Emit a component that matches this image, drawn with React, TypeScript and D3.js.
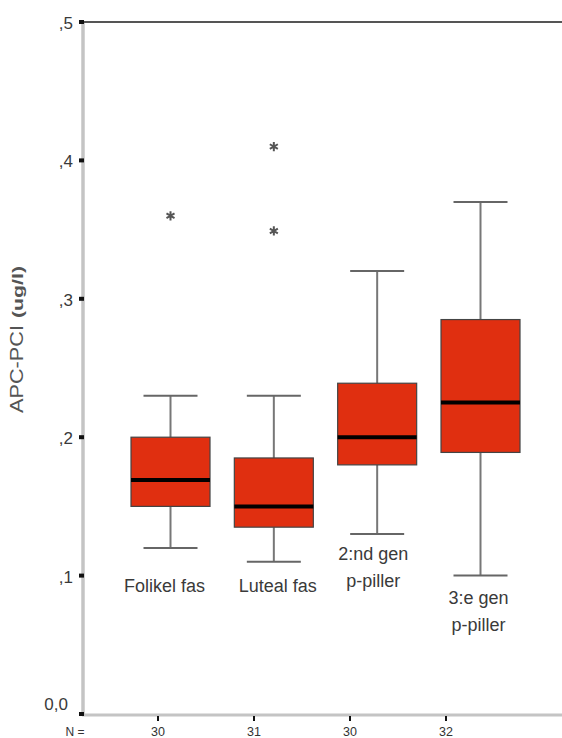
import React from "react";
import * as d3 from "d3";

// Groups and their box-plot summaries (APC-PCI, ug/l)
const groupLines: string[][] = [
  ["Folikel fas"],
  ["Luteal fas"],
  ["2:nd gen", "p-piller"],
  ["3:e gen", "p-piller"],
];
const groupKeys = ["folikel", "luteal", "gen2", "gen3"];
const whiskerLow = [0.12, 0.11, 0.13, 0.1];
const quartile1 = [0.15, 0.135, 0.18, 0.189];
const medians = [0.169, 0.15, 0.2, 0.225];
const quartile3 = [0.2, 0.185, 0.239, 0.285];
const whiskerHigh = [0.23, 0.23, 0.32, 0.37];
const outliers: number[][] = [[0.36], [0.41, 0.349], [], []];
const counts = [30, 31, 30, 32];

const yTicks = [0, 0.1, 0.2, 0.3, 0.4, 0.5];
const yTickLabels = ["0,0", ",1", ",2", ",3", ",4", ",5"];

const W = 562;
const H = 738;

export default function App() {
  const left = 82;
  const top = 22;
  const bottom = 714;

  const y = d3.scaleLinear().domain([0, 0.5]).range([bottom, top]);
  // box positions and the N-count positions use slightly different spacing
  const xBox = d3.scalePoint<string>().domain(groupKeys).range([170.5, 480.5]);
  const xN = d3.scalePoint<string>().domain(groupKeys).range([158, 446]);

  const boxW = 79;
  const capW = 54;
  const labelBase = [592, 592, 560, 604];
  const labelDx = [-6, 4, -4, -2];
  const asterisk = d3.symbol().type(d3.symbolAsterisk).size(60)() as string;

  const sans = "'Liberation Sans', Arial, sans-serif";

  return (
    <svg
      width={W}
      height={H}
      viewBox={`0 0 ${W} ${H}`}
      style={{ position: "absolute", left: 0, top: 0, background: "#fff" }}
    >
      <rect x={0} y={0} width={W} height={H} fill="#fff" />

      {/* frame: light left/bottom axes, dark top rule */}
      <line x1={left + 1} x2={left + 1} y1={top} y2={bottom} stroke="#c4c4c4" strokeWidth={3.5} />
      <line x1={left} x2={W} y1={bottom + 1} y2={bottom + 1} stroke="#c4c4c4" strokeWidth={3} />
      <line x1={left} x2={W} y1={top} y2={top} stroke="#555" strokeWidth={2} />

      {/* y ticks */}
      {yTicks.map((t, i) => (
        <g key={t}>
          <rect x={left - 3} y={y(t) - 2} width={5} height={4} fill="#111" />
          <text
            x={i === 0 ? 68 : 73}
            y={i === 0 ? y(t) - 4 : y(t) + 7}
            textAnchor="end"
            fontFamily={sans}
            fontSize={17}
            fill="#3a3a3a"
          >
            {yTickLabels[i]}
          </text>
        </g>
      ))}

      {/* y title */}
      <text
        transform={`translate(23,413) rotate(-90)`}
        fontFamily={sans}
        fontSize={18}
        fill="#555"
        textLength={88}
        lengthAdjust="spacingAndGlyphs"
      >
        APC-PCI
      </text>
      <text
        transform={`translate(23,318) rotate(-90)`}
        fontFamily={sans}
        fontSize={14}
        fontWeight="bold"
        fill="#555"
        textLength={52}
        lengthAdjust="spacingAndGlyphs"
      >
        (ug/l)
      </text>

      {/* N counts */}
      <text x={75} y={736} textAnchor="middle" fontFamily={sans} fontSize={12} fill="#333">
        N =
      </text>
      {groupKeys.map((k, i) => (
        <g key={`n-${k}`}>
          <line x1={xN(k)} x2={xN(k)} y1={bottom + 2} y2={bottom + 7} stroke="#111" strokeWidth={2} />
          <text x={xN(k)} y={736} textAnchor="middle" fontFamily={sans} fontSize={12.5} fill="#333">
            {counts[i]}
          </text>
        </g>
      ))}

      {/* boxes */}
      {groupKeys.map((k, i) => {
        const cx = xBox(k) as number;
        return (
          <g key={k}>
            <line x1={cx} x2={cx} y1={y(whiskerHigh[i])} y2={y(quartile3[i])} stroke="#777" strokeWidth={2} />
            <line x1={cx} x2={cx} y1={y(quartile1[i])} y2={y(whiskerLow[i])} stroke="#777" strokeWidth={2} />
            <line x1={cx - capW / 2} x2={cx + capW / 2} y1={y(whiskerHigh[i])} y2={y(whiskerHigh[i])} stroke="#666" strokeWidth={2} />
            <line x1={cx - capW / 2} x2={cx + capW / 2} y1={y(whiskerLow[i])} y2={y(whiskerLow[i])} stroke="#666" strokeWidth={2} />
            <rect
              x={cx - boxW / 2}
              y={y(quartile3[i])}
              width={boxW}
              height={y(quartile1[i]) - y(quartile3[i])}
              fill="#e02f10"
              stroke="#444"
              strokeWidth={1.2}
            />
            <line x1={cx - boxW / 2} x2={cx + boxW / 2} y1={y(medians[i])} y2={y(medians[i])} stroke="#000" strokeWidth={4} />
            {outliers[i].map((v) => (
              <path key={v} d={asterisk} transform={`translate(${cx},${y(v)})`} fill="none" stroke="#555" strokeWidth={2} />
            ))}
            <text
              x={cx + labelDx[i]}
              y={labelBase[i]}
              textAnchor="middle"
              fontFamily={sans}
              fontSize={18}
              fill="#3a3a3a"
            >
              {groupLines[i].map((line, j) => (
                <tspan key={j} x={cx + labelDx[i]} dy={j === 0 ? 0 : 27}>
                  {line}
                </tspan>
              ))}
            </text>
          </g>
        );
      })}
    </svg>
  );
}
